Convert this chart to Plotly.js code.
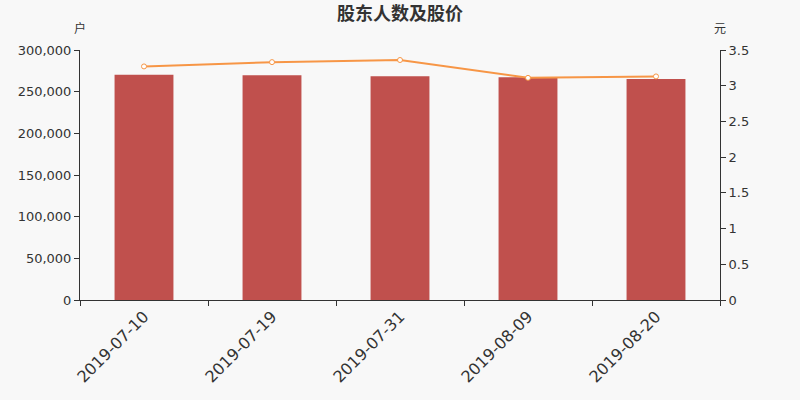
<!DOCTYPE html>
<html>
<head>
<meta charset="utf-8">
<script src="https://cdn.plot.ly/plotly-3.0.1.min.js"></script>
<style>
  html, body { margin: 0; padding: 0; background: #f8f8f8; }
  #chart { width: 800px; height: 400px; }
</style>
</head>
<body>
<div id="chart"></div>
<script>
// 股东人数及股价
const dates = ['2019-07-10', '2019-07-19', '2019-07-31', '2019-08-09', '2019-08-20'];
const holders = [270300, 269600, 268400, 267200, 265200];
const prices = [3.27, 3.33, 3.36, 3.11, 3.13];

const axisFont = { family: 'DejaVu Sans, sans-serif', size: 13, color: '#333' };

let barTrace = {
    x: dates,
    y: holders,
    type: 'bar',
    name: '股东人数',
    width: 0.46,
    marker: { color: '#c0504d' },
    hoverinfo: 'none'
};

let lineTrace = {
    x: dates,
    y: prices,
    type: 'scatter',
    mode: 'lines+markers',
    name: '股价',
    yaxis: 'y2',
    line: { color: '#f79646', width: 2 },
    marker: { color: '#fff', size: 5, line: { color: '#f79646', width: 1 } },
    hoverinfo: 'none'
};

let layout = {
    width: 800,
    height: 400,
    paper_bgcolor: '#f8f8f8',
    plot_bgcolor: '#f8f8f8',
    showlegend: false,
    margin: { l: 80, r: 80, t: 50, b: 100 },
    title: {
        text: '<b>股东人数及股价</b>',
        x: 0.5,
        y: 0.965,
        yanchor: 'middle',
        font: { family: 'Noto Sans CJK SC, sans-serif', size: 18, color: '#333' }
    },
    xaxis: {
        type: 'category',
        tickson: 'boundaries',
        ticks: 'outside',
        ticklen: 5,
        tickcolor: '#333',
        showline: true,
        linecolor: '#333',
        showgrid: false,
        tickangle: -45,
        tickfont: { family: 'DejaVu Sans, sans-serif', size: 16, color: '#333' }
    },
    yaxis: {
        range: [0, 300000],
        tickvals: [0, 50000, 100000, 150000, 200000, 250000, 300000],
        ticktext: ['0', '50,000', '100,000', '150,000', '200,000', '250,000', '300,000'],
        ticks: 'outside',
        ticklen: 5,
        tickcolor: '#333',
        showline: true,
        linecolor: '#333',
        showgrid: false,
        zeroline: false,
        tickfont: axisFont
    },
    yaxis2: {
        overlaying: 'y',
        side: 'right',
        range: [0, 3.5],
        tickvals: [0, 0.5, 1, 1.5, 2, 2.5, 3, 3.5],
        ticktext: ['0', '0.5', '1', '1.5', '2', '2.5', '3', '3.5'],
        ticks: 'outside',
        ticklen: 5,
        tickcolor: '#333',
        showline: true,
        linecolor: '#333',
        showgrid: false,
        zeroline: false,
        tickfont: axisFont
    },
    annotations: [
        {
            text: '户', xref: 'paper', yref: 'paper', x: 0, y: 1,
            xanchor: 'center', yanchor: 'bottom', yshift: 12, showarrow: false,
            font: { family: 'Noto Sans CJK SC, sans-serif', size: 12, color: '#333' }
        },
        {
            text: '元', xref: 'paper', yref: 'paper', x: 1, y: 1,
            xanchor: 'center', yanchor: 'bottom', yshift: 12, showarrow: false,
            font: { family: 'Noto Sans CJK SC, sans-serif', size: 12, color: '#333' }
        }
    ]
};

Plotly.newPlot('chart', [barTrace, lineTrace], layout, { staticPlot: true });
</script>
</body>
</html>
